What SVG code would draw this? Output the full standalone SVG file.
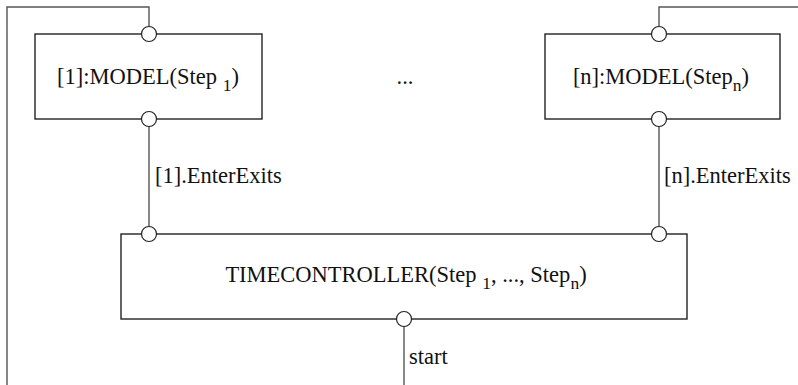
<svg xmlns="http://www.w3.org/2000/svg" width="798" height="385" viewBox="0 0 798 385">
<style>
.box{fill:#fff;stroke:#111;stroke-width:1.3}
.port{fill:#fff;stroke:#222;stroke-width:1.2}
.wire{fill:none;stroke:#555;stroke-width:1.4}
text{font-family:"Liberation Serif","Times New Roman",serif;font-size:22.5px;fill:#111}
.sub{font-size:17.5px}
</style>
<rect width="798" height="385" fill="#fff"/>
<g id="connectors">
<polyline class="wire" points="7,385 7,7 149,7 149,26.5"/>
<polyline class="wire" points="798,7 659,7 659,26.5"/>
<line class="wire" x1="149" y1="126.5" x2="149" y2="226.5"/>
<line class="wire" x1="659" y1="126.5" x2="659" y2="226.5"/>
<line class="wire" x1="404" y1="326.5" x2="404" y2="385"/>
<text x="155" y="183" font-family="Liberation Serif, serif">[1].EnterExits</text>
<text x="664" y="183" font-family="Liberation Serif, serif">[n].EnterExits</text>
<text x="409" y="364" font-family="Liberation Serif, serif">start</text>
</g>
<g id="model1">
<rect class="box" x="35" y="34" width="227" height="85"/>
<text x="148" y="84" text-anchor="middle" font-family="Liberation Serif, serif">[1]:MODEL(Step <tspan class="sub" dy="7">1</tspan><tspan dy="-7">)</tspan></text>
<circle class="port" cx="149" cy="34" r="7.5"/>
<circle class="port" cx="149" cy="119" r="7.5"/>
</g>
<g id="ellipsis">
<text x="405" y="84" text-anchor="middle" font-family="Liberation Serif, serif">...</text>
</g>
<g id="modeln">
<rect class="box" x="545" y="34" width="235" height="85"/>
<text x="661" y="84" text-anchor="middle" font-family="Liberation Serif, serif">[n]:MODEL(Step<tspan class="sub" dy="7">n</tspan><tspan dy="-7">)</tspan></text>
<circle class="port" cx="659" cy="34" r="7.5"/>
<circle class="port" cx="659" cy="119" r="7.5"/>
</g>
<g id="timecontroller">
<rect class="box" x="121" y="234" width="566" height="85"/>
<text x="406" y="282" text-anchor="middle" font-family="Liberation Serif, serif">TIMECONTROLLER(Step <tspan class="sub" dy="7">1</tspan><tspan dy="-7">, ..., Step</tspan><tspan class="sub" dy="7">n</tspan><tspan dy="-7">)</tspan></text>
<circle class="port" cx="149" cy="234" r="7.5"/>
<circle class="port" cx="659" cy="234" r="7.5"/>
<circle class="port" cx="404" cy="319" r="7.5"/>
</g>
</svg>
